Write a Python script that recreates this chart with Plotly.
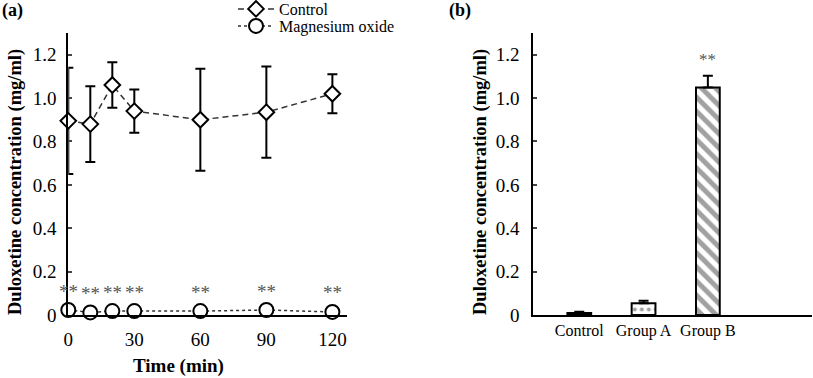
import plotly.graph_objects as go
from plotly.subplots import make_subplots

# ---- data ----
time_min = [0, 10, 20, 30, 60, 90, 120]
control_mean = [0.895, 0.88, 1.06, 0.94, 0.90, 0.935, 1.02]
control_err = [0.245, 0.175, 0.105, 0.10, 0.235, 0.21, 0.09]
mgo_mean = [0.023, 0.012, 0.018, 0.018, 0.018, 0.023, 0.014]
sig_labels = ["**"] * 7

groups = ["Control", "Group A", "Group B"]
group_mean = [0.009, 0.054, 1.049]
group_err = [0.006, 0.012, 0.054]
group_sig = ["", "", "**"]

y_ticks = [0, 0.2, 0.4, 0.6, 0.8, 1.0, 1.2]
y_ticktext = ["0", "0.2", "0.4", "0.6", "0.8", "1.0", "1.2"]
x_ticks = [0, 30, 60, 90, 120]

FONT = "Liberation Serif"
W, H = 813, 378

fig = make_subplots(rows=1, cols=2)

fig.add_trace(go.Scatter(
    x=time_min, y=control_mean, name="Control", mode="lines+markers", legend="legend",
    line=dict(color="#333333", width=1.5, dash="6px,4px"),
    marker=dict(symbol="diamond", size=12, color="white", line=dict(color="black", width=2)),
    error_y=dict(type="data", array=control_err, color="black", thickness=2, width=5),
    cliponaxis=False,
), row=1, col=1)

fig.add_trace(go.Scatter(
    x=time_min, y=mgo_mean, name="Magnesium oxide", mode="lines+markers", legend="legend2",
    line=dict(color="#333333", width=1.5, dash="dot"),
    marker=dict(symbol="circle", size=14, color="white", line=dict(color="black", width=2)),
    cliponaxis=False,
), row=1, col=1)

fig.add_trace(go.Bar(
    x=groups, y=group_mean, width=0.37, showlegend=False,
    marker=dict(color=["black", "white", "white"], line=dict(color="black", width=2),
                pattern=dict(shape=["", ".", "\\"], fgcolor="#222222", size=[8, 7, 10],
                             solidity=[0.4, 0.25, 0.5])),
    error_y=dict(type="data", array=group_err, arrayminus=[0, 0, 0], color="black", thickness=2, width=5),
    cliponaxis=False,
), row=1, col=2)

annotations = []
for t, m, s in zip(time_min, mgo_mean, sig_labels):
    annotations.append(dict(x=t, y=m, xref="x", yref="y", text=s, showarrow=False,
                            yshift=19, font=dict(family=FONT, size=19, color="#555555")))
for g, m, e, s in zip(groups, group_mean, group_err, group_sig):
    if s:
        annotations.append(dict(x=g, y=m + e, xref="x2", yref="y2", text=s, showarrow=False,
                                yshift=16, font=dict(family=FONT, size=17, color="#555555")))

annotations += [
    dict(x=0 / W, y=1 - 11 / H, xref="paper", yref="paper", text="<b>(a)</b>", showarrow=False,
         xanchor="left", yanchor="middle", font=dict(family=FONT, size=18, color="black")),
    dict(x=447 / W, y=1 - 11 / H, xref="paper", yref="paper", text="<b>(b)</b>", showarrow=False,
         xanchor="left", yanchor="middle", font=dict(family=FONT, size=18, color="black")),
    dict(x=16 / W, y=1 - 182 / H, xref="paper", yref="paper",
         text="<b>Duloxetine concentration (mg/ml)</b>", textangle=-90, showarrow=False,
         xanchor="center", yanchor="middle", font=dict(family=FONT, size=18.5, color="black")),
    dict(x=481 / W, y=1 - 182 / H, xref="paper", yref="paper",
         text="<b>Duloxetine concentration (mg/ml)</b>", textangle=-90, showarrow=False,
         xanchor="center", yanchor="middle", font=dict(family=FONT, size=18.5, color="black")),
    dict(x=178 / W, y=1 - 366 / H, xref="paper", yref="paper", text="<b>Time (min)</b>",
         showarrow=False, xanchor="center", yanchor="middle",
         font=dict(family=FONT, size=19, color="black")),
]

axis_common = dict(showgrid=False, zeroline=False, showline=True, linecolor="black", linewidth=2,
                   automargin=False, tickfont=dict(family=FONT, size=19, color="black"))

fig.update_xaxes(**axis_common, range=[0, 126.5], tickvals=x_ticks, ticks="", ticklabelstandoff=6,
                 domain=[68.3 / W, 346.7 / W], row=1, col=1)
fig.update_yaxes(**axis_common, range=[0, 1.3], tickvals=y_ticks, ticktext=y_ticktext,
                 ticks="inside", ticklen=4, tickwidth=1.5, ticklabelstandoff=6,
                 domain=[1 - 315 / H, 1 - 33 / H], row=1, col=1)
fig.update_xaxes(showgrid=False, zeroline=False, showline=True, linecolor="black", linewidth=2,
                 automargin=False, tickfont=dict(family=FONT, size=16, color="black"),
                 range=[-0.715, 3.615], ticks="", domain=[533.3 / W, 811.7 / W], row=1, col=2)
fig.update_yaxes(**axis_common, range=[0, 1.3], tickvals=y_ticks, ticktext=y_ticktext,
                 ticks="inside", ticklen=4, tickwidth=1.5, ticklabelstandoff=8,
                 domain=[1 - 315 / H, 1 - 33 / H], row=1, col=2)

leg_common = dict(xanchor="left", yanchor="top", bgcolor="rgba(0,0,0,0)",
                  font=dict(family=FONT, size=16, color="black"), itemwidth=36)
fig.update_layout(
    width=W, height=H, margin=dict(l=0, r=0, t=0, b=0, autoexpand=False),
    paper_bgcolor="white", plot_bgcolor="white",
    font=dict(family=FONT, color="black"),
    annotations=annotations,
    legend=dict(x=233 / W, y=1 + 8 / H, **leg_common),
    legend2=dict(x=233 / W, y=1 - 9 / H, **leg_common),
)

fig.write_html("out.html", config={"displayModeBar": False},
               post_script="document.body.style.margin='0';")
